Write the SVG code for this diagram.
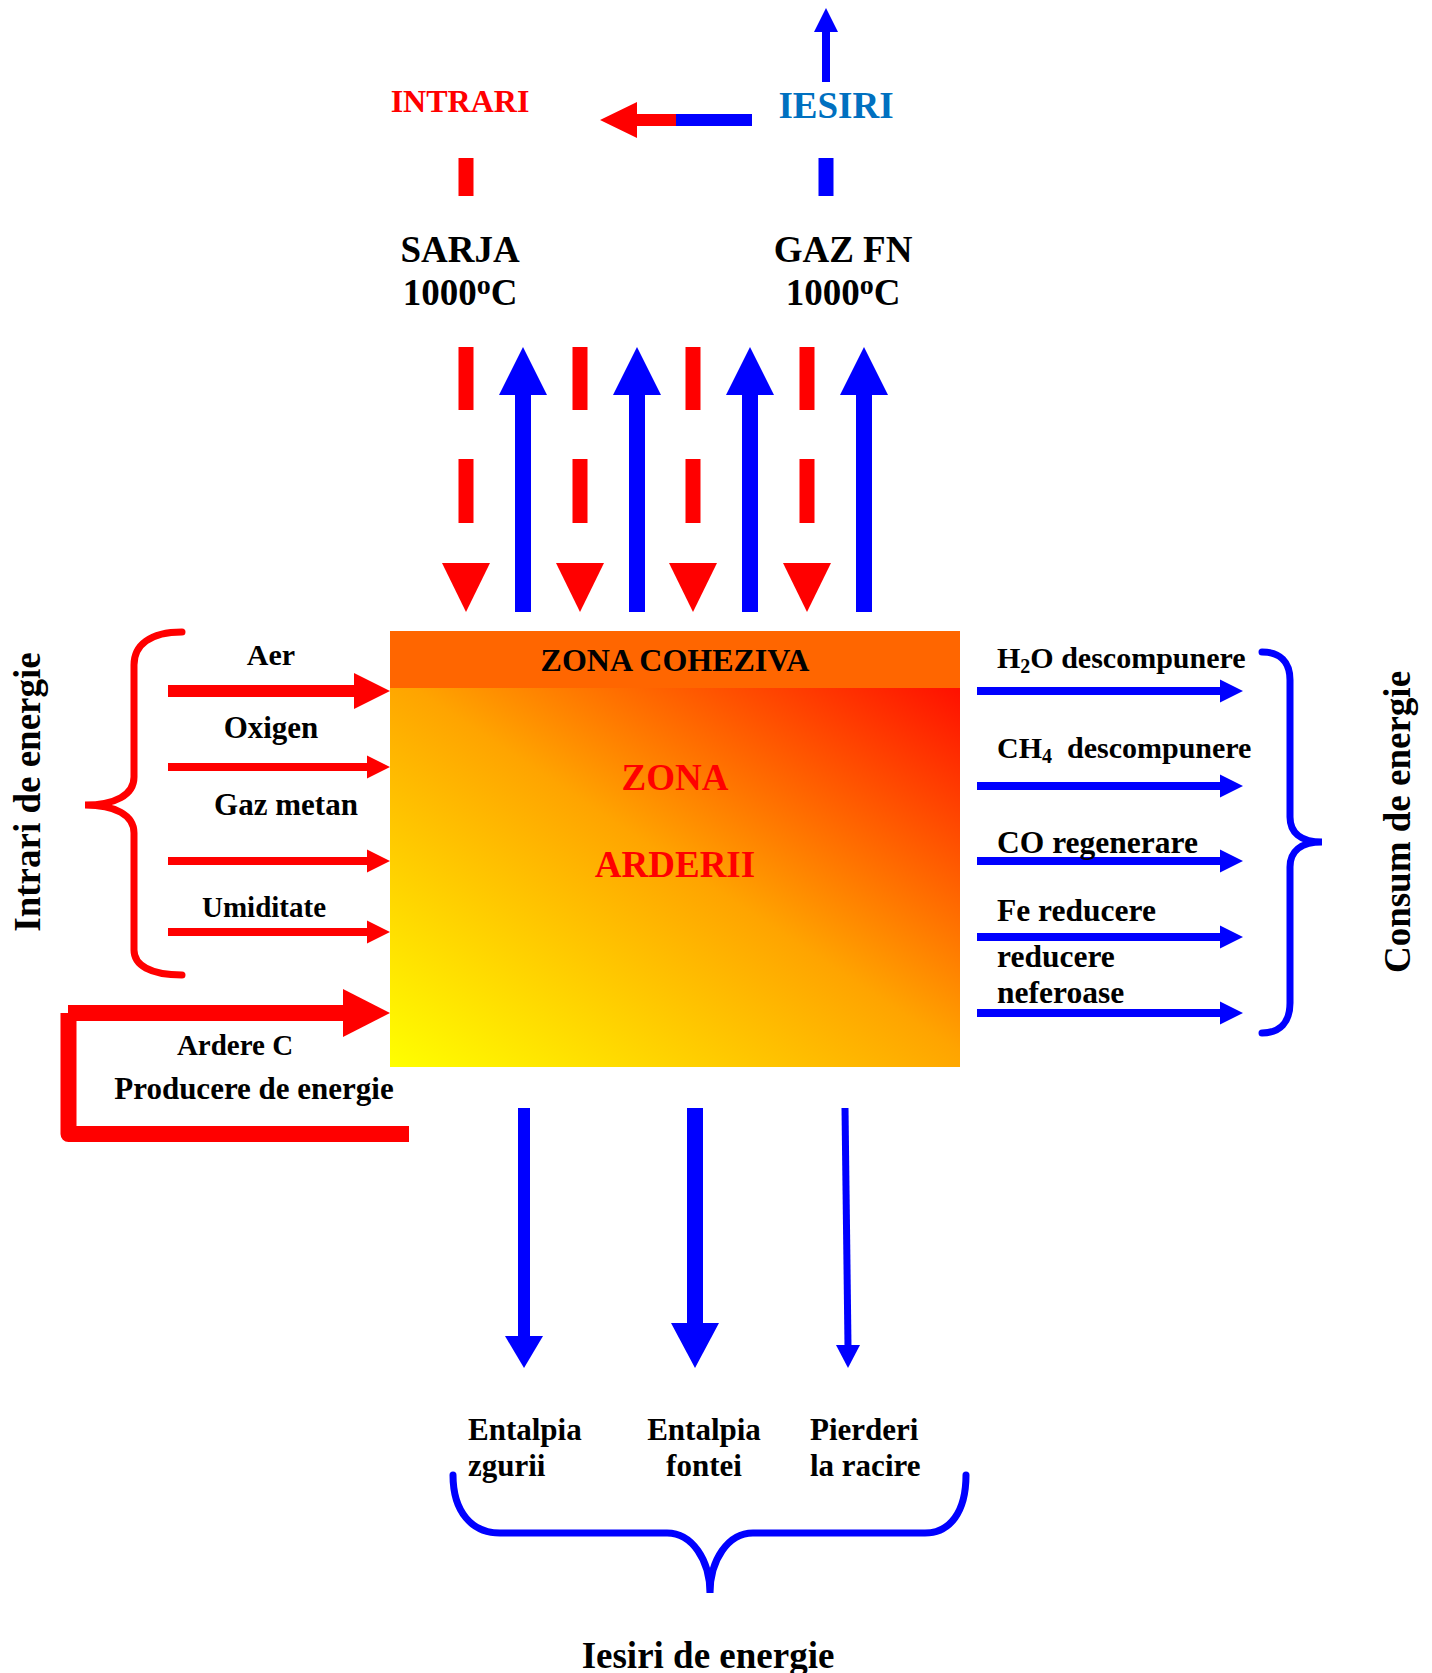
<svg xmlns="http://www.w3.org/2000/svg" width="1432" height="1673" viewBox="0 0 1432 1673">
<defs>
<linearGradient id="fire" x1="0" y1="1" x2="1" y2="0">
<stop offset="0" stop-color="#FFFF00"/>
<stop offset="0.52" stop-color="#FFA400"/>
<stop offset="1" stop-color="#FF1000"/>
</linearGradient>
<style>
text{font-family:"Liberation Serif","Times New Roman",serif;font-weight:bold;fill:#000}
.red{fill:#FF0000}
.blue{fill:#0000FF}
.bs{stroke:#0000FF;fill:none}
.rs{stroke:#FF0000;fill:none}
.m{text-anchor:middle}
</style>
</defs>
<rect width="1432" height="1673" fill="#FFFFFF"/>

<g id="top-legend">
<polygon class="blue" points="826,8 838,32 830,32 830,82 822,82 822,32 814,32"/>
<text class="red m" x="460" y="112" font-size="32">INTRARI</text>
<text class="m" x="836" y="118" font-size="37" style="fill:#0070C0">IESIRI</text>
<polygon class="red" points="600,120 637,102 637,114 676,114 676,126 637,126 637,138"/>
<rect class="blue" x="676" y="114" width="76" height="12"/>
<rect class="red" x="458.5" y="158" width="15" height="38"/>
<rect class="blue" x="818.5" y="158" width="15" height="38"/>
</g>

<g id="sarja">
<text class="m" x="460" y="262" font-size="37">SARJA</text>
<text class="m" x="460" y="305" font-size="37">1000<tspan font-size="28" dy="-11">o</tspan><tspan dy="11">C</tspan></text>
</g>
<g id="gaz-fn">
<text class="m" x="843" y="262" font-size="37">GAZ FN</text>
<text class="m" x="843" y="305" font-size="37">1000<tspan font-size="28" dy="-11">o</tspan><tspan dy="11">C</tspan></text>
</g>

<g id="zona">
<rect x="390" y="688" width="570" height="379" fill="url(#fire)"/>
<rect x="390" y="631" width="570" height="57" fill="#FF6600"/>
<text class="m" x="675" y="671" font-size="32">ZONA COHEZIVA</text>
<text class="red m" x="675" y="790" font-size="37">ZONA</text>
<text class="red m" x="675" y="877" font-size="37">ARDERII</text>
</g>

<g id="connectors">
<g class="red">
<rect x="458.5" y="347" width="15" height="63"/><rect x="458.5" y="459" width="15" height="64"/><polygon points="442,563 490,563 466,612"/>
<rect x="572.5" y="347" width="15" height="63"/><rect x="572.5" y="459" width="15" height="64"/><polygon points="556,563 604,563 580,612"/>
<rect x="685.5" y="347" width="15" height="63"/><rect x="685.5" y="459" width="15" height="64"/><polygon points="669,563 717,563 693,612"/>
<rect x="799.5" y="347" width="15" height="63"/><rect x="799.5" y="459" width="15" height="64"/><polygon points="783,563 831,563 807,612"/>
</g>
<g class="blue">
<polygon points="523,347 547,395 531,395 531,612 515,612 515,395 499,395"/>
<polygon points="637,347 661,395 645,395 645,612 629,612 629,395 613,395"/>
<polygon points="750,347 774,395 758,395 758,612 742,612 742,395 726,395"/>
<polygon points="864,347 888,395 872,395 872,612 856,612 856,395 840,395"/>
</g>
<g class="red">
<polygon points="168,685 354,685 354,673 390,691 354,709 354,697 168,697"/>
<polygon points="168,763 367,763 367,755.5 390,767 367,778.5 367,771 168,771"/>
<polygon points="168,857 367,857 367,849.5 390,861 367,872.5 367,865 168,865"/>
<polygon points="168,928 367,928 367,920.5 390,932 367,943.5 367,936 168,936"/>
<rect x="68" y="1005" width="276" height="16"/>
<polygon points="343,989 390,1013 343,1037"/>
</g>
<path class="rs" d="M68.5,1013 V1134 H409" stroke-width="16" stroke-linejoin="round"/>
<g class="blue">
<polygon points="977,687 1220,687 1220,679.5 1243,691 1220,702.5 1220,695 977,695"/>
<polygon points="977,782 1220,782 1220,774.5 1243,786 1220,797.5 1220,790 977,790"/>
<polygon points="977,857 1220,857 1220,849.5 1243,861 1220,872.5 1220,865 977,865"/>
<polygon points="977,933 1220,933 1220,925.5 1243,937 1220,948.5 1220,941 977,941"/>
<polygon points="977,1009 1220,1009 1220,1001.5 1243,1013 1220,1024.5 1220,1017 977,1017"/>
</g>
<g class="blue">
<rect x="518" y="1108" width="12" height="229"/>
<polygon points="505,1336 543,1336 524,1368"/>
<rect x="687" y="1108" width="16" height="216"/>
<polygon points="671,1323 719,1323 695,1368"/>
<polygon points="841.5,1108 848.5,1108 851.5,1346 844.5,1346"/>
<polygon points="836,1345 860,1345 848,1368"/>
</g>
</g>

<g id="intrari-de-energie">
<path class="rs" stroke-width="7" stroke-linecap="round" d="M182,632 C150,632 134,645 134,665 L134,777 C134,795 115,805 85,805 C115,805 134,815 134,833 L134,950 C134,965 150,975 182,975"/>
<text class="m" x="0" y="0" font-size="37" transform="translate(40,792) rotate(-90)">Intrari de energie</text>
<text class="m" x="271" y="665" font-size="30">Aer</text>
<text class="m" x="271" y="738" font-size="31">Oxigen</text>
<text class="m" x="286" y="815" font-size="31">Gaz metan</text>
<text class="m" x="264" y="917" font-size="29">Umiditate</text>
<text class="m" x="235" y="1055" font-size="29">Ardere C</text>
<text class="m" x="254" y="1099" font-size="31">Producere de energie</text>
</g>

<g id="consum-de-energie">
<path class="bs" stroke-width="7" stroke-linecap="round" d="M1262,652 C1280,652 1290,662 1290,680 L1290,817 C1290,832 1300,842 1322,842 C1300,842 1290,852 1290,867 L1290,1003 C1290,1022 1280,1033 1262,1033"/>
<text class="m" x="0" y="0" font-size="37" transform="translate(1410,822) rotate(-90)">Consum de energie</text>
<text x="997" y="668" font-size="30">H<tspan font-size="20" dy="5">2</tspan><tspan dy="-5">O descompunere</tspan></text>
<text x="997" y="758" font-size="30" xml:space="preserve">CH<tspan font-size="20" dy="5">4</tspan><tspan dy="-5">  descompunere</tspan></text>
<text x="997" y="853" font-size="31.5">CO regenerare</text>
<text x="997" y="921" font-size="31.5">Fe reducere</text>
<text x="997" y="967" font-size="31.5">reducere</text>
<text x="997" y="1003" font-size="31.5">neferoase</text>
</g>

<g id="iesiri-de-energie">
<path class="bs" stroke-width="7" stroke-linecap="round" d="M453,1475 C453,1512 472,1533 500,1533 L667,1533 C692,1533 710,1560 710,1593 C710,1560 728,1533 753,1533 L925,1533 C950,1533 966,1512 966,1475"/>
<text x="468" y="1440" font-size="31">Entalpia</text>
<text x="468" y="1476" font-size="31">zgurii</text>
<text class="m" x="704" y="1440" font-size="31">Entalpia</text>
<text class="m" x="704" y="1476" font-size="31">fontei</text>
<text x="810" y="1440" font-size="31">Pierderi</text>
<text x="810" y="1476" font-size="31">la racire</text>
<text class="m" x="708" y="1668" font-size="37">Iesiri de energie</text>
</g>
</svg>
